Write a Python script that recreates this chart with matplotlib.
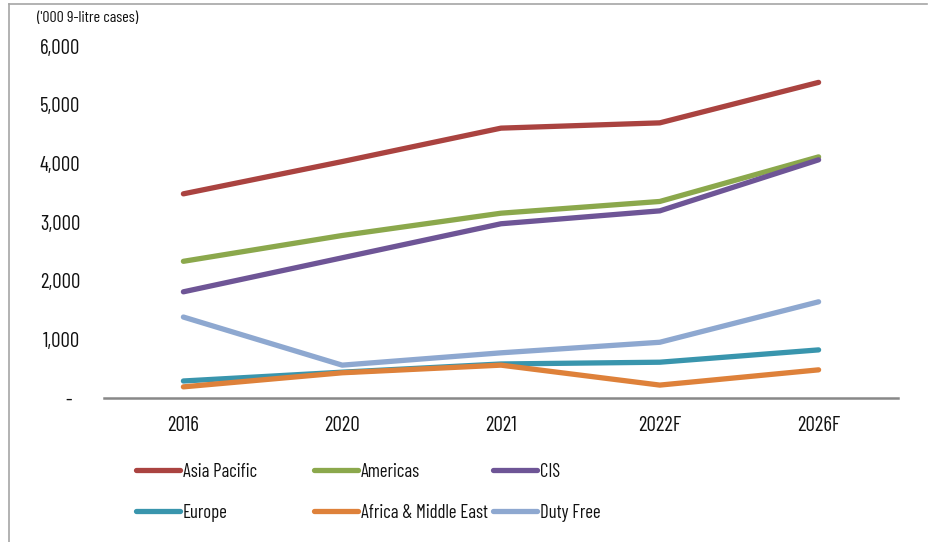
import matplotlib as mpl
mpl.use('Agg')
import matplotlib.pyplot as plt
from matplotlib.lines import Line2D

plt.rcParams['font.family'] = ['Barlow Condensed', 'Archivo Narrow', 'Liberation Sans', 'DejaVu Sans']

# data ('000 9-litre cases)
years = ['2016', '2020', '2021', '2022F', '2026F']
asia_pacific = [3480, 4030, 4600, 4690, 5380]
americas = [2330, 2770, 3150, 3350, 4110]
cis = [1810, 2390, 2970, 3190, 4060]
europe = [290, 440, 580, 610, 820]
africa_me = [190, 430, 560, 220, 480]
duty_free = [1380, 560, 770, 950, 1640]

series = [
    ('Asia Pacific', asia_pacific, '#AA4340'),
    ('Americas', americas, '#8BA84C'),
    ('CIS', cis, '#6E5596'),
    ('Europe', europe, '#3995AD'),
    ('Africa & Middle East', africa_me, '#DE813A'),
    ('Duty Free', duty_free, '#8EA8D0'),
]

W, H = 933, 542
fig = plt.figure(figsize=(W / 100, H / 100), dpi=100)
ax = fig.add_axes([104 / W, 1 - 398 / H, (898 - 104) / W, (398 - 46) / H])

x = list(range(len(years)))
lines = {}
for name, vals, col in series:
    ln, = ax.plot(x, vals, color=col, lw=3.8, solid_capstyle='round', label=name)
    lines[name] = ln

ax.set_xlim(-0.5, len(years) - 0.5)
ax.set_ylim(0, 6000)
ax.set_yticks(range(0, 6001, 1000))
ax.set_yticklabels(['-  '] + [f'{v:,}' for v in range(1000, 6001, 1000)])
ax.set_xticks(x)
ax.set_xticklabels(years)
ax.tick_params(axis='y', length=0, pad=17, labelsize=15, colors='#111111')
ax.tick_params(axis='x', length=0, pad=13, labelsize=15, colors='#111111')

for s in ['left', 'right', 'top']:
    ax.spines[s].set_visible(False)
ax.spines['bottom'].set_color('#888888')
ax.spines['bottom'].set_linewidth(1.8)

fig.text(37 / W, 1 - 18 / H, "('000 9-litre cases)", fontsize=11.5,
         va='center', ha='left', color='#111111')

# legend, three columns placed at fixed positions
cols = [['Asia Pacific', 'Europe'], ['Americas', 'Africa & Middle East'], ['CIS', 'Duty Free']]
col_x = [136, 314, 493]
for names, cx in zip(cols, col_x):
    leg = fig.legend([lines[n] for n in names], names, loc='upper left',
                     bbox_to_anchor=(cx / W, 1 - 463 / H), frameon=False,
                     fontsize=13.5, handlelength=2.35, handletextpad=0.15,
                     labelspacing=1.22, borderaxespad=0, borderpad=0)
    for t in leg.get_texts():
        t.set_color('#111111')

# outer frame (left and top edges visible)
fig.add_artist(Line2D([9 / W, 9 / W], [0, 1 - 4 / H], color='#A6A6A6', lw=1.2))
fig.add_artist(Line2D([9 / W, 927 / W], [1 - 4 / H, 1 - 4 / H], color='#A6A6A6', lw=1.2))

fig.savefig('out.png', dpi=100)
